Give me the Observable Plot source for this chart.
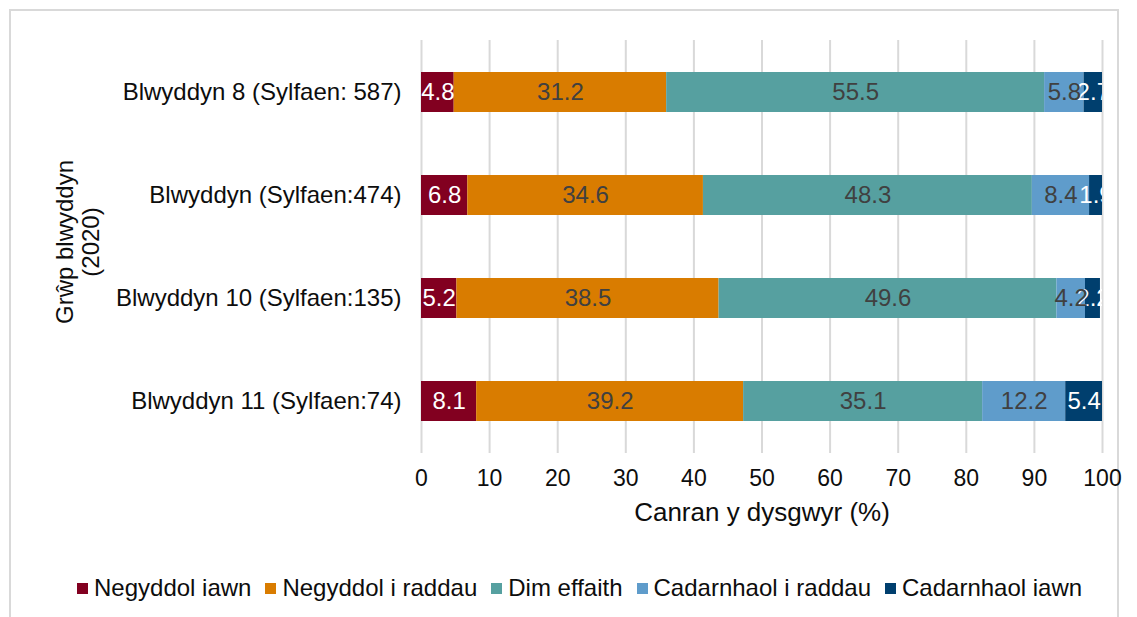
<!DOCTYPE html>
<html>
<head>
<meta charset="utf-8">
<script src="https://cdn.jsdelivr.net/npm/d3@7"></script>
<script src="https://cdn.jsdelivr.net/npm/@observablehq/plot@0.6"></script>
<style>
  html, body { margin: 0; padding: 0; background: #fff; overflow: hidden; }
  body { width: 1137px; height: 617px; position: relative; font-family: "Liberation Sans", Arial, sans-serif; }
  #frame { position: absolute; left: 9px; top: 9px; width: 1110px; height: 620px; border: 2px solid #d9d9d9; box-sizing: border-box; }
  #chart { position: absolute; left: 0; top: 0; }
  #legend { position: absolute; left: 77px; top: 574px; display: flex; align-items: center; font-size: 24px; line-height: 28px; color: #0d0d0d; white-space: nowrap; }
  .item { display: flex; align-items: center; margin-right: 14px; }
  .sw { width: 11px; height: 11px; margin-right: 6px; }
</style>
</head>
<body>
<div id="frame"></div>
<div id="chart"></div>
<div id="legend"></div>
<script>
const groups = ["Blwyddyn 8 (Sylfaen: 587)", "Blwyddyn (Sylfaen:474)", "Blwyddyn 10 (Sylfaen:135)", "Blwyddyn 11 (Sylfaen:74)"];
const series = ["Negyddol iawn", "Negyddol i raddau", "Dim effaith", "Cadarnhaol i raddau", "Cadarnhaol iawn"];
const negyddolIawn = [4.8, 6.8, 5.2, 8.1];
const negyddolIRaddau = [31.2, 34.6, 38.5, 39.2];
const dimEffaith = [55.5, 48.3, 49.6, 35.1];
const cadarnhaolIRaddau = [5.8, 8.4, 4.2, 12.2];
const cadarnhaolIawn = [2.7, 1.9, 2.2, 5.4];
const xTicks = [0, 10, 20, 30, 40, 50, 60, 70, 80, 90, 100];
const colors = ["#820020", "#d97c00", "#56a0a0", "#5f9ccb", "#003f6e"];
const labelColors = ["#ffffff", "#404040", "#404040", "#404040", "#ffffff"];

const seriesValues = [negyddolIawn, negyddolIRaddau, dimEffaith, cadarnhaolIRaddau, cadarnhaolIawn];
const data = [];
series.forEach((s, si) => groups.forEach((g, gi) => data.push({group: g, series: s, value: seriesValues[si][gi], si})));

const font = "Liberation Sans, Arial, sans-serif";
const labelMark = (color) => Plot.textX(data, Plot.stackX({
  x: "value", y: "group", z: "series",
  text: d => labelColors[d.si] === color ? d.value.toFixed(1) : "",
  fill: color, fontSize: 24, clip: true
}));

const chart = Plot.plot({
  width: 1137,
  height: 550,
  marginLeft: 421,
  marginRight: 35,
  marginTop: 40,
  marginBottom: 97,
  style: {fontFamily: font, fontSize: "24px", color: "#0d0d0d", background: "transparent"},
  x: {domain: [0, 100], ticks: xTicks},
  y: {domain: groups, paddingInner: 0.613, paddingOuter: 0.3065},
  color: {domain: series, range: colors},
  marks: [
    Plot.gridX(xTicks, {stroke: "#d9d9d9", strokeOpacity: 1, strokeWidth: 2}),
    Plot.barX(data, Plot.stackX({x: "value", y: "group", z: "series", fill: "series"})),
    labelMark("#ffffff"),
    labelMark("#404040"),
    Plot.axisX(xTicks, {tickSize: 0, tickPadding: 16, fontSize: 23, label: null, fill: "#0d0d0d"}),
    Plot.axisY({tickSize: 0, tickPadding: 20, fontSize: 24, label: null, fill: "#0d0d0d"}),
    Plot.text(["Canran y dysgwyr (%)"], {frameAnchor: "bottom", dy: 67, fontSize: 26, fill: "#0d0d0d", text: d => d}),
    Plot.text(["Grŵp blwyddyn\n(2020)"], {frameAnchor: "left", textAnchor: "middle", dx: -344, dy: -5, rotate: -90, fontSize: 24, fill: "#0d0d0d", lineHeight: 1.1, text: d => d})
  ]
});
document.getElementById("chart").appendChild(chart);

const legend = document.getElementById("legend");
series.forEach((s, i) => {
  const item = document.createElement("div");
  item.className = "item";
  const sw = document.createElement("div");
  sw.className = "sw";
  sw.style.background = colors[i];
  const t = document.createElement("span");
  t.textContent = s;
  item.appendChild(sw);
  item.appendChild(t);
  legend.appendChild(item);
});
</script>
</body>
</html>
